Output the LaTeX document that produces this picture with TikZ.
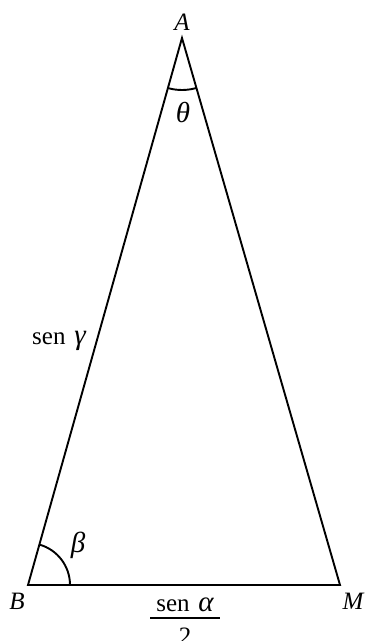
\documentclass[tikz,border=0pt]{standalone}
\usepackage{fontspec}
\setmainfont{Liberation Serif}
\usetikzlibrary{calc}
\begin{document}
\begin{tikzpicture}[x=1pt,y=1pt,
  edge/.style={line width=1.9pt},
  lbl/.style={inner sep=0pt,font=\fontsize{25}{30}\selectfont\itshape},
  grk/.style={inner sep=0pt,font=\fontsize{29}{34}\selectfont\itshape},
  txt/.style={inner sep=0pt,font=\fontsize{25}{30}\selectfont}]
\useasboundingbox (0,0) rectangle (366,641);
\coordinate (A) at (182,603);
\coordinate (B) at (28,56);
\coordinate (M) at (340,56);
\draw[edge,line join=miter] (A) -- (B) -- (M) -- cycle;
\draw[edge] ($(A)+(254.27:52)$) arc[start angle=254.27,end angle=286.11,radius=52];
\draw[edge] ($(B)+(0:42)$) arc[start angle=0,end angle=74.27,radius=42];
\node[lbl] (lA) at (182,619) {A};
\node[lbl] (lB) at (17,40) {B};
\node[lbl] (lM) at (353,40) {M};
\node[grk] (th) at (183,528) {θ};
\node[grk] (be) at (78,96) {β};
\node[txt,anchor=base west] (sg) at (32,296) {sen\hspace{0.35em}{\fontsize{29}{34}\selectfont\itshape γ}};
\node[txt,anchor=base] (num) at (185,29) {sen\hspace{0.35em}{\fontsize{29}{34}\selectfont\itshape α}};
\coordinate (fl) at (150,23);
\coordinate (fr) at (220,23);
\draw[line width=1.6pt] (fl) -- (fr);
\node[txt,anchor=base] (den) at (185,-3) {2};
\end{tikzpicture}
\end{document}
